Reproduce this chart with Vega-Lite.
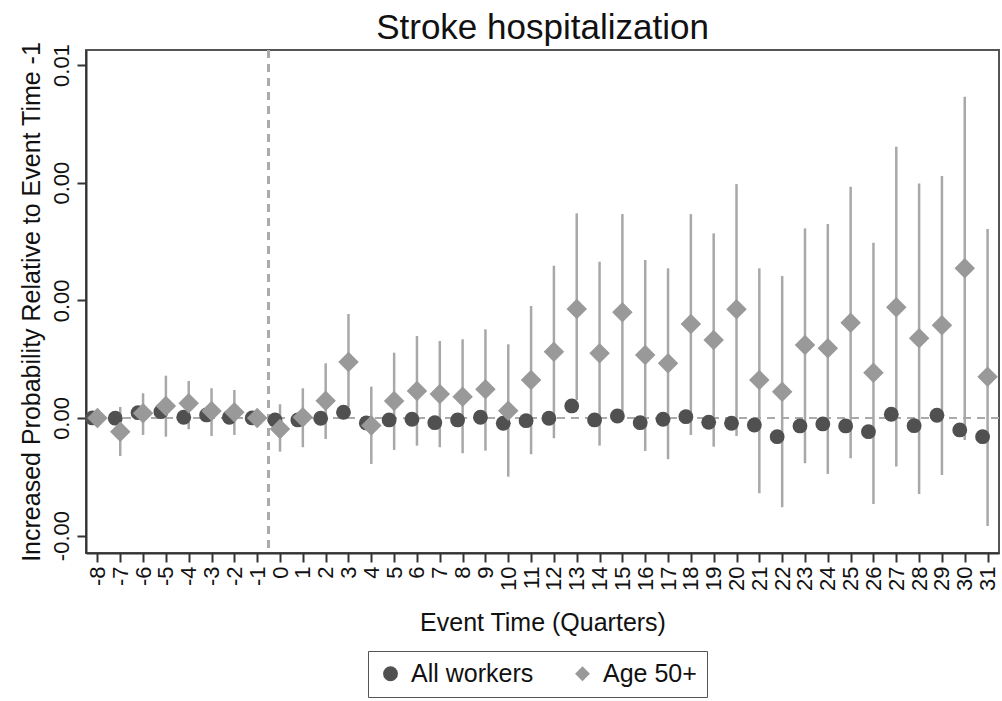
{
"$schema": "https://vega.github.io/schema/vega-lite/v6.json",
"width": 913, "height": 503,
"autosize": {"type": "none"},
"padding": {"left": 86, "top": 50, "right": 3, "bottom": 148},
"background": "white",
"title": {"text": "Stroke hospitalization", "fontSize": 35, "font": "Liberation Sans", "fontWeight": "normal", "color": "#111", "baseline": "alphabetic", "offset": -33, "anchor": "middle", "frame": "group"},
"config": {
  "view": {"stroke": "#555", "strokeWidth": 2},
  "font": "Liberation Sans",
  "axis": {"labelFont": "Liberation Sans", "titleFont": "Liberation Sans", "labelColor": "#111", "titleColor": "#111", "titleFontWeight": "normal", "grid": false, "domainColor": "#333", "domainWidth": 2, "tickColor": "#333", "tickWidth": 2, "tickSize": 9},
  "legend": {"labelFont": "Liberation Sans"}
},
"data": {"values": [
{"t":-8,"group":"All workers","est":0},
{"t":-7,"group":"All workers","est":-0.000005},
{"t":-6,"group":"All workers","est":0.000113},
{"t":-5,"group":"All workers","est":0.000134},
{"t":-4,"group":"All workers","est":0.000015},
{"t":-3,"group":"All workers","est":0.000064},
{"t":-2,"group":"All workers","est":0.000015},
{"t":-1,"group":"All workers","est":0},
{"t":0,"group":"All workers","est":-0.000042},
{"t":1,"group":"All workers","est":-0.000042},
{"t":2,"group":"All workers","est":-0.000006},
{"t":3,"group":"All workers","est":0.000121},
{"t":4,"group":"All workers","est":-0.000106},
{"t":5,"group":"All workers","est":-0.000042},
{"t":6,"group":"All workers","est":-0.000028},
{"t":7,"group":"All workers","est":-0.0001},
{"t":8,"group":"All workers","est":-0.000042},
{"t":9,"group":"All workers","est":0.000015},
{"t":10,"group":"All workers","est":-0.000113},
{"t":11,"group":"All workers","est":-0.000057},
{"t":12,"group":"All workers","est":-0.000006},
{"t":13,"group":"All workers","est":0.000255},
{"t":14,"group":"All workers","est":-0.000042},
{"t":15,"group":"All workers","est":0.000042},
{"t":16,"group":"All workers","est":-0.0001},
{"t":17,"group":"All workers","est":-0.000028},
{"t":18,"group":"All workers","est":0.000028},
{"t":19,"group":"All workers","est":-0.000091},
{"t":20,"group":"All workers","est":-0.000113},
{"t":21,"group":"All workers","est":-0.000149},
{"t":22,"group":"All workers","est":-0.000397},
{"t":23,"group":"All workers","est":-0.00017},
{"t":24,"group":"All workers","est":-0.000127},
{"t":25,"group":"All workers","est":-0.00017},
{"t":26,"group":"All workers","est":-0.000291},
{"t":27,"group":"All workers","est":0.000079},
{"t":28,"group":"All workers","est":-0.000164},
{"t":29,"group":"All workers","est":0.000057},
{"t":30,"group":"All workers","est":-0.000255},
{"t":31,"group":"All workers","est":-0.000397},
{"t":-8,"group":"Age 50+","est":0,"lo":null,"hi":null},
{"t":-7,"group":"Age 50+","est":-0.000291,"lo":-0.000807,"hi":0.000234},
{"t":-6,"group":"Age 50+","est":0.0001,"lo":-0.000361,"hi":0.000525},
{"t":-5,"group":"Age 50+","est":0.000255,"lo":-0.000397,"hi":0.000898},
{"t":-4,"group":"Age 50+","est":0.000312,"lo":-0.00024,"hi":0.000786},
{"t":-3,"group":"Age 50+","est":0.000149,"lo":-0.000382,"hi":0.000631},
{"t":-2,"group":"Age 50+","est":0.000121,"lo":-0.000361,"hi":0.000595},
{"t":-1,"group":"Age 50+","est":0,"lo":null,"hi":null},
{"t":0,"group":"Age 50+","est":-0.000234,"lo":-0.000716,"hi":0.000291},
{"t":1,"group":"Age 50+","est":0.000015,"lo":-0.000622,"hi":0.000631},
{"t":2,"group":"Age 50+","est":0.000367,"lo":-0.000446,"hi":0.001162},
{"t":3,"group":"Age 50+","est":0.001189,"lo":0.000234,"hi":0.002209},
{"t":4,"group":"Age 50+","est":-0.000159,"lo":-0.000977,"hi":0.000665},
{"t":5,"group":"Age 50+","est":0.000361,"lo":-0.00068,"hi":0.001387},
{"t":6,"group":"Age 50+","est":0.000573,"lo":-0.000588,"hi":0.001742},
{"t":7,"group":"Age 50+","est":0.00051,"lo":-0.000622,"hi":0.001635},
{"t":8,"group":"Age 50+","est":0.000452,"lo":-0.00075,"hi":0.001672},
{"t":9,"group":"Age 50+","est":0.00061,"lo":-0.000695,"hi":0.001884},
{"t":10,"group":"Age 50+","est":0.000155,"lo":-0.001247,"hi":0.001565},
{"t":11,"group":"Age 50+","est":0.000807,"lo":-0.000771,"hi":0.002379},
{"t":12,"group":"Age 50+","est":0.001408,"lo":-0.000431,"hi":0.003235},
{"t":13,"group":"Age 50+","est":0.002315,"lo":0.000382,"hi":0.004348},
{"t":14,"group":"Age 50+","est":0.001374,"lo":-0.000588,"hi":0.00332},
{"t":15,"group":"Age 50+","est":0.002245,"lo":0.000127,"hi":0.004333},
{"t":16,"group":"Age 50+","est":0.001338,"lo":-0.000701,"hi":0.003356},
{"t":17,"group":"Age 50+","est":0.001162,"lo":-0.000877,"hi":0.00318},
{"t":18,"group":"Age 50+","est":0.001997,"lo":-0.000361,"hi":0.004333},
{"t":19,"group":"Age 50+","est":0.001657,"lo":-0.00061,"hi":0.003923},
{"t":20,"group":"Age 50+","est":0.002309,"lo":-0.000382,"hi":0.00497},
{"t":21,"group":"Age 50+","est":0.000807,"lo":-0.001599,"hi":0.00318},
{"t":22,"group":"Age 50+","est":0.000559,"lo":-0.001897,"hi":0.003016},
{"t":23,"group":"Age 50+","est":0.001551,"lo":-0.000962,"hi":0.004029},
{"t":24,"group":"Age 50+","est":0.00148,"lo":-0.001189,"hi":0.004121},
{"t":25,"group":"Age 50+","est":0.002024,"lo":-0.000856,"hi":0.004913},
{"t":26,"group":"Age 50+","est":0.000962,"lo":-0.001827,"hi":0.003723},
{"t":27,"group":"Age 50+","est":0.002351,"lo":-0.001034,"hi":0.005762},
{"t":28,"group":"Age 50+","est":0.001693,"lo":-0.001614,"hi":0.004985},
{"t":29,"group":"Age 50+","est":0.001969,"lo":-0.001211,"hi":0.00514},
{"t":30,"group":"Age 50+","est":0.00318,"lo":-0.000467,"hi":0.006824},
{"t":31,"group":"Age 50+","est":0.000877,"lo":-0.002294,"hi":0.004014}
]},
"layer": [
  {
    "mark": {"type": "rule", "color": "#aaaaaa", "strokeWidth": 2, "strokeDash": [8, 6]},
    "encoding": {"x": {"datum": -0.5, "type": "quantitative"}}
  },
  {
    "mark": {"type": "rule", "color": "#aaaaaa", "strokeWidth": 2, "strokeDash": [8, 6]},
    "encoding": {"y": {"datum": 0, "type": "quantitative"}}
  },
  {
    "transform": [{"filter": "datum.group == 'Age 50+' && isValid(datum.lo)"}],
    "mark": {"type": "rule", "color": "#a8a8a8", "strokeWidth": 2.5},
    "encoding": {
      "x": {"field": "t", "type": "quantitative",
        "scale": {"domain": [-8.5, 31.5], "nice": false, "zero": false},
        "title": "Event Time (Quarters)",
        "axis": {"values": [-8,-7,-6,-5,-4,-3,-2,-1,0,1,2,3,4,5,6,7,8,9,10,11,12,13,14,15,16,17,18,19,20,21,22,23,24,25,26,27,28,29,30,31], "tickCount": 40, "labelExpr": "'' + datum.value", "labelAngle": 270, "labelAlign": "right", "labelBaseline": "middle", "labelFontSize": 22, "labelPadding": 4, "labelOverlap": false, "labelFlush": false, "titleFontSize": 25, "titlePadding": 20}},
      "y": {"field": "lo", "type": "quantitative",
        "scale": {"domain": [-0.00287, 0.00782], "nice": false, "zero": false},
        "title": "Increased Probability Relative to Event Time -1",
        "axis": {"values": [-0.0025, 0, 0.0025, 0.005, 0.0075], "labelExpr": "datum.value > 0.006 ? '0.01' : (datum.value < -0.001 ? '-0.00' : '0.00')", "labelAngle": 270, "labelAlign": "center", "labelBaseline": "bottom", "labelFontSize": 22, "labelPadding": 4, "titleFontSize": 25, "titlePadding": 6}},
      "y2": {"field": "hi"}
    }
  },
  {
    "transform": [{"filter": "datum.group == 'All workers'"}],
    "mark": {"type": "point", "filled": true, "opacity": 1, "size": 220, "xOffset": -5, "strokeWidth": 0},
    "encoding": {
      "x": {"field": "t", "type": "quantitative"},
      "y": {"field": "est", "type": "quantitative"},
      "color": {"field": "group", "type": "nominal"},
      "shape": {"field": "group", "type": "nominal"}
    }
  },
  {
    "transform": [{"filter": "datum.group == 'Age 50+'"}],
    "mark": {"type": "point", "filled": true, "opacity": 1, "size": 420, "strokeWidth": 0},
    "encoding": {
      "x": {"field": "t", "type": "quantitative"},
      "y": {"field": "est", "type": "quantitative"},
      "color": {"field": "group", "type": "nominal",
        "scale": {"domain": ["All workers", "Age 50+"], "range": ["#505050", "#999999"]},
        "legend": {"title": null, "orient": "none", "legendX": 282, "legendY": 601, "direction": "horizontal", "padding": 10, "strokeColor": "#555", "labelFontSize": 25, "labelFont": "Liberation Sans", "labelColor": "#111", "symbolSize": 220, "symbolStrokeWidth": 0, "columnPadding": 36, "labelOffset": 8}},
      "shape": {"field": "group", "type": "nominal",
        "scale": {"domain": ["All workers", "Age 50+"], "range": ["circle", "diamond"]},
        "legend": {"title": null, "orient": "none", "legendX": 282, "legendY": 601, "direction": "horizontal", "padding": 10, "strokeColor": "#555", "labelFontSize": 25, "labelFont": "Liberation Sans", "labelColor": "#111", "symbolSize": 220, "symbolStrokeWidth": 0, "columnPadding": 36, "labelOffset": 8}}
    }
  }
]
}
